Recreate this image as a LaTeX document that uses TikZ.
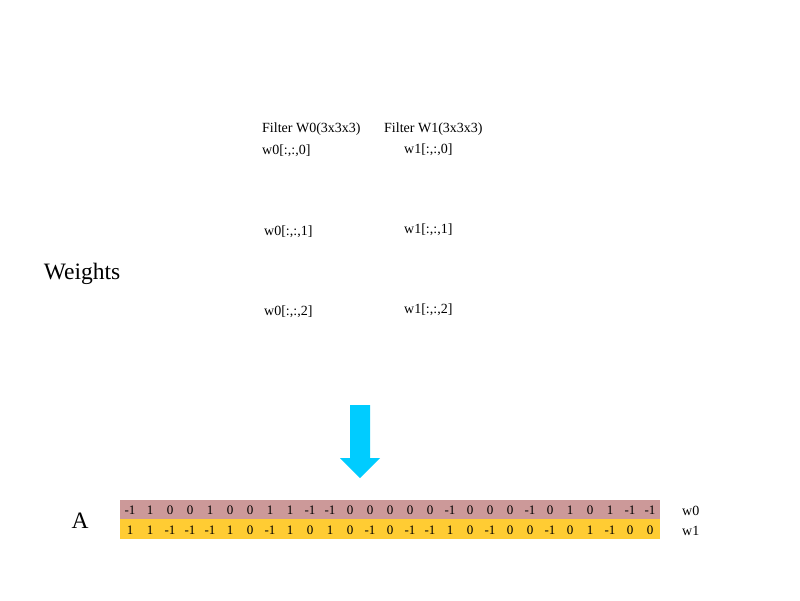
\documentclass[tikz,border=0pt]{standalone}
\usepackage{fontspec}
\setmainfont{Liberation Serif}
\definecolor{rowzero}{RGB}{204,153,153}
\definecolor{rowone}{RGB}{255,204,51}
\definecolor{arrowblue}{RGB}{0,204,255}
\begin{document}
\begin{tikzpicture}[x=1pt, y=-1pt,
    lbl/.style={anchor=west, inner sep=0pt, font=\fontsize{14}{16}\selectfont},
    num/.style={inner sep=0pt, font=\fontsize{13}{15}\selectfont},
    big/.style={inner sep=0pt, font=\fontsize{23.5}{26}\selectfont}]
\useasboundingbox (0,0) rectangle (800,600);
\node[big] (weights) at (82,274) {Weights};
\node[lbl] (f0) at (262,129) {Filter W0(3x3x3)};
\node[lbl] (f1) at (384,129) {Filter W1(3x3x3)};
\node[lbl] (w00) at (262,151) {w0[:,:,0]};
\node[lbl] (w10) at (404,150) {w1[:,:,0]};
\node[lbl] (w01) at (264,232) {w0[:,:,1]};
\node[lbl] (w11) at (404,230) {w1[:,:,1]};
\node[lbl] (w02) at (264,312) {w0[:,:,2]};
\node[lbl] (w12) at (404,310) {w1[:,:,2]};
% arrow
\fill[arrowblue](350,405)--(370,405)--(370,458)--(380,458)--(360,478)--(340,458)--(350,458)--cycle;
% matrix A
\node[big] (A) at (80,521) {A};
\fill[rowzero](120,500)rectangle(660,519);
\fill[rowone](120,519)rectangle(660,539);
\foreach \v [count=\i] in {-1,1,0,0,1,0,0,1,1,-1,-1,0,0,0,0,0,-1,0,0,0,-1,0,1,0,1,-1,-1}
{
    \node[num] (a\i) at (110+20*\i,510) {\v};
}
\foreach \v [count=\i] in {1,1,-1,-1,-1,1,0,-1,1,0,1,0,-1,0,-1,-1,1,0,-1,0,0,-1,0,1,-1,0,0}
{
    \node[num] (b\i) at (110+20*\i,530) {\v};
}
\node[lbl] (r0) at (682,511) {w0};
\node[lbl] (r1) at (682,531) {w1};
\end{tikzpicture}
\end{document}
